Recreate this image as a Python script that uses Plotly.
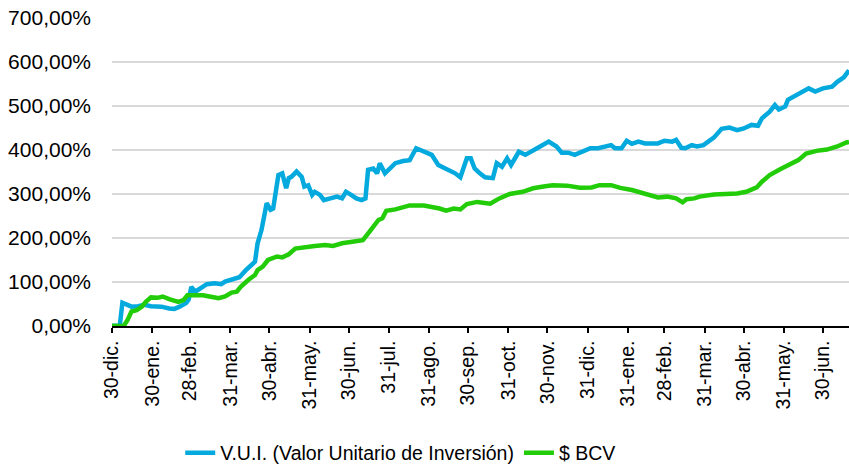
import plotly.graph_objects as go

# ---- data -------------------------------------------------------------
vui_dates = [
    "2020-12-30", "2021-01-05", "2021-01-07", "2021-01-10", "2021-01-14", "2021-01-19",
    "2021-01-24", "2021-01-29", "2021-02-06", "2021-02-12", "2021-02-16", "2021-02-20",
    "2021-02-25", "2021-02-27", "2021-03-01", "2021-03-04", "2021-03-09", "2021-03-13",
    "2021-03-19", "2021-03-24", "2021-03-27", "2021-04-01", "2021-04-07", "2021-04-12",
    "2021-04-19", "2021-04-21", "2021-04-24", "2021-04-28", "2021-05-01", "2021-05-03",
    "2021-05-07", "2021-05-10", "2021-05-13", "2021-05-15", "2021-05-17", "2021-05-21",
    "2021-05-25", "2021-05-27", "2021-05-30", "2021-06-02", "2021-06-04", "2021-06-08",
    "2021-06-11", "2021-06-16", "2021-06-21", "2021-06-25", "2021-06-28", "2021-07-02",
    "2021-07-06", "2021-07-10", "2021-07-13", "2021-07-15", "2021-07-19", "2021-07-22",
    "2021-07-24", "2021-07-28", "2021-07-31", "2021-08-05", "2021-08-11", "2021-08-16",
    "2021-08-21", "2021-08-27", "2021-09-02", "2021-09-07", "2021-09-15", "2021-09-20",
    "2021-09-24", "2021-09-29", "2021-10-02", "2021-10-05", "2021-10-09", "2021-10-13",
    "2021-10-19", "2021-10-22", "2021-10-26", "2021-10-30", "2021-11-02", "2021-11-08",
    "2021-11-13", "2021-11-18", "2021-11-22", "2021-12-01", "2021-12-03", "2021-12-07",
    "2021-12-11", "2021-12-16", "2021-12-21", "2021-12-26", "2022-01-02", "2022-01-08",
    "2022-01-15", "2022-01-18", "2022-01-21", "2022-01-26", "2022-01-30", "2022-02-03",
    "2022-02-08", "2022-02-13", "2022-02-18", "2022-02-23", "2022-02-28", "2022-03-06",
    "2022-03-09", "2022-03-13", "2022-03-16", "2022-03-21", "2022-03-25", "2022-03-30",
    "2022-04-07", "2022-04-13", "2022-04-19", "2022-04-25", "2022-04-30", "2022-05-06",
    "2022-05-11", "2022-05-14", "2022-05-20", "2022-05-24", "2022-05-27", "2022-06-01",
    "2022-06-03", "2022-06-10", "2022-06-16", "2022-06-19", "2022-06-24", "2022-06-30",
    "2022-07-07", "2022-07-11", "2022-07-16", "2022-07-20",
]
vui_values = [
    0.5, 1, 53, 50, 44, 45,
    48, 45, 44, 40, 39, 44,
    52, 60, 89, 78, 86, 95,
    97, 95, 101, 105, 111, 127,
    146, 188, 218, 279, 264, 267,
    343, 347, 313, 336, 339, 351,
    339, 317, 320, 298, 305, 298,
    286, 290, 294, 290, 305, 298,
    290, 286, 290, 355, 358, 347,
    370, 347, 355, 370, 375, 377,
    404, 396, 389, 366, 355, 347,
    338, 381, 381, 358, 347, 338,
    336, 370, 362, 381, 366, 396,
    389, 396, 404, 419, 415, 408,
    394, 394, 389, 396, 404, 404,
    409, 411, 404, 404, 421, 414,
    419, 415, 415, 415, 421, 419,
    423, 405, 404, 411, 408, 411,
    428, 448, 451, 445, 449, 457,
    455, 472, 487, 502, 492, 499,
    514, 525, 536, 540, 533, 540,
    544, 555, 565, 581,
]

bcv_dates = [
    "2020-12-30", "2021-01-08", "2021-01-11", "2021-01-14", "2021-01-18", "2021-01-22",
    "2021-01-25", "2021-01-29", "2021-02-03", "2021-02-07", "2021-02-12", "2021-02-19",
    "2021-02-23", "2021-02-26", "2021-03-05", "2021-03-10", "2021-03-15", "2021-03-22",
    "2021-03-27", "2021-04-01", "2021-04-05", "2021-04-08", "2021-04-14", "2021-04-19",
    "2021-04-21", "2021-04-25", "2021-04-29", "2021-05-06", "2021-05-10", "2021-05-15",
    "2021-05-20", "2021-05-27", "2021-06-04", "2021-06-12", "2021-06-18", "2021-06-25",
    "2021-07-02", "2021-07-11", "2021-07-16", "2021-07-23", "2021-07-26", "2021-07-29",
    "2021-08-05", "2021-08-12", "2021-08-16", "2021-08-27", "2021-09-03", "2021-09-08",
    "2021-09-13", "2021-09-19", "2021-09-24", "2021-09-29", "2021-10-07", "2021-10-17",
    "2021-10-24", "2021-11-01", "2021-11-11", "2021-11-19", "2021-11-27", "2021-12-04",
    "2021-12-15", "2021-12-25", "2022-01-03", "2022-01-09", "2022-01-18", "2022-01-25",
    "2022-02-03", "2022-02-10", "2022-02-18", "2022-02-23", "2022-03-02", "2022-03-09",
    "2022-03-14", "2022-03-17", "2022-03-23", "2022-03-27", "2022-04-07", "2022-04-25",
    "2022-05-02", "2022-05-10", "2022-05-14", "2022-05-20", "2022-05-28", "2022-06-04",
    "2022-06-11", "2022-06-17", "2022-06-25", "2022-07-03", "2022-07-11", "2022-07-18",
    "2022-07-20",
]
bcv_values = [
    0, 0, 14, 33, 36, 44,
    55, 65, 64, 67, 61, 55,
    59, 70, 70, 70, 67, 63,
    67, 76, 78, 89, 105, 116,
    127, 135, 150, 158, 156, 163,
    176, 180, 182, 184, 182, 188,
    192, 195, 214, 241, 245, 262,
    265, 270, 274, 274, 271, 267,
    262, 267, 265, 277, 282, 278,
    290, 300, 305, 313, 317, 320,
    319, 314, 315, 320, 320, 314,
    309, 303, 298, 292, 294, 290,
    281, 288, 290, 294, 299, 301,
    305, 315, 328, 343, 356, 366,
    377, 392, 398, 401, 408, 417,
    418,
]

x_tick_dates = [
    "2020-12-30", "2021-01-30", "2021-02-28", "2021-03-31", "2021-04-30", "2021-05-31",
    "2021-06-30", "2021-07-31", "2021-08-31", "2021-09-30", "2021-10-31", "2021-11-30",
    "2021-12-31", "2022-01-31", "2022-02-28", "2022-03-31", "2022-04-30", "2022-05-31",
    "2022-06-30",
]
x_tick_labels = [
    "30-dic.", "30-ene.", "28-feb.", "31-mar.", "30-abr.", "31-may.",
    "30-jun.", "31-jul.", "31-ago.", "30-sep.", "31-oct.", "30-nov.",
    "31-dic.", "31-ene.", "28-feb.", "31-mar.", "30-abr.", "31-may.",
    "30-jun.",
]
y_tick_vals = [0, 100, 200, 300, 400, 500, 600, 700]
y_tick_labels = ["0,00%", "100,00%", "200,00%", "300,00%", "400,00%", "500,00%", "600,00%", "700,00%"]

series_names = ["V.U.I. (Valor Unitario de Inversión)", "$ BCV"]
series_colors = ["#04A9DD", "#22CC08"]

# ---- figure -----------------------------------------------------------
FONT = "Liberation Sans, Arial, sans-serif"

fig = go.Figure()
fig.add_trace(go.Scatter(x=vui_dates, y=vui_values, mode="lines", name=series_names[0],
                         line=dict(color=series_colors[0], width=4.5)))
fig.add_trace(go.Scatter(x=bcv_dates, y=bcv_values, mode="lines", name=series_names[1],
                         line=dict(color=series_colors[1], width=4.5)))

fig.update_layout(
    width=849, height=468,
    margin=dict(l=112, r=0, t=18, b=142),
    paper_bgcolor="white", plot_bgcolor="white",
    font=dict(family=FONT, size=20, color="#000000"),
    showlegend=True,
    legend=dict(orientation="h", xref="container", yref="container",
                x=0.472, y=0.032, xanchor="center", yanchor="middle",
                font=dict(family=FONT, size=19.5, color="#000000"),
                bgcolor="rgba(0,0,0,0)"),
    xaxis=dict(type="date", range=["2020-12-30", "2022-07-20"],
               tickmode="array", tickvals=x_tick_dates, ticktext=x_tick_labels,
               tickangle=-90, ticks="outside", ticklen=5, tickwidth=1.5, tickcolor="#000000",
               showline=True, linecolor="#000000", linewidth=1.5,
               showgrid=False, zeroline=False, automargin=False,
               tickfont=dict(family=FONT, size=19.5, color="#000000")),
    yaxis=dict(range=[0, 700], tickmode="array", tickvals=y_tick_vals, ticktext=y_tick_labels,
               showgrid=True, gridcolor="#D9D9D9", gridwidth=2,
               showline=False, zeroline=False, ticks="", automargin=False,
               ticklabelstandoff=20,
               tickfont=dict(family=FONT, size=21, color="#000000")),
)

fig.write_html("out.html", config={"displayModeBar": False},
               post_script="document.body.style.margin='0';")
